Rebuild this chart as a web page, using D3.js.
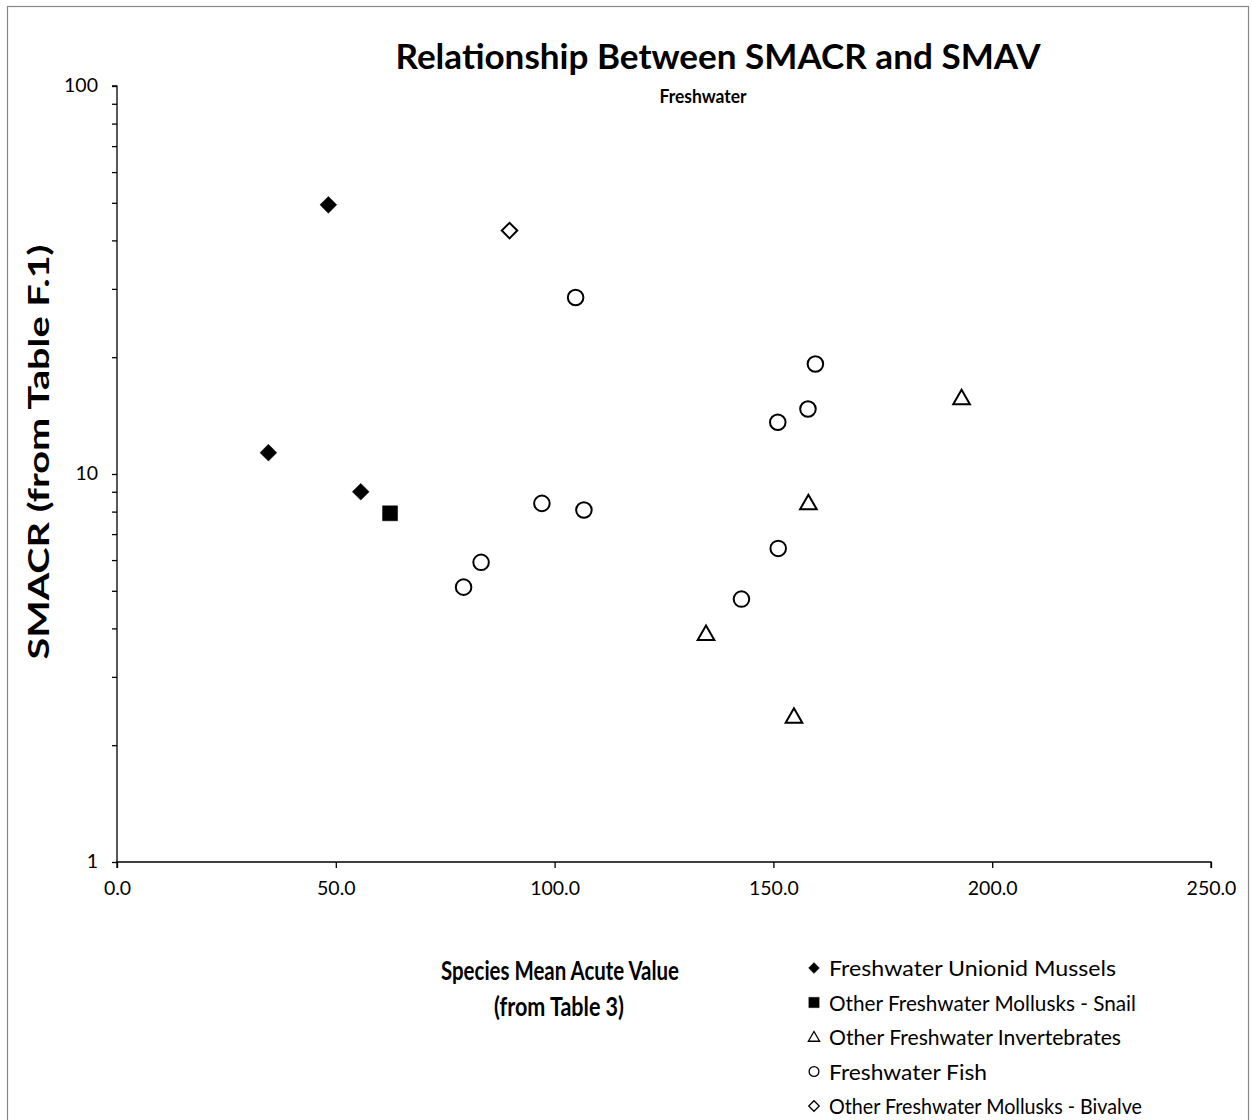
<!DOCTYPE html>
<html>
<head>
<meta charset="utf-8">
<script src="https://cdn.jsdelivr.net/npm/d3@7"></script>
<style>
  body { margin: 0; background: #fff; }
  svg { display: block; font-family: Lato, "Open Sans", sans-serif; }
</style>
</head>
<body>
<svg id="chart" width="1252" height="1120"></svg>
<script>
// ---- data ----
const seriesNames = [
  "Freshwater Unionid Mussels",
  "Other Freshwater Mollusks - Snail",
  "Other Freshwater Invertebrates",
  "Freshwater Fish",
  "Other Freshwater Mollusks - Bivalve"
];
const unionidX = [48.3, 34.6, 55.7];
const unionidY = [49.4, 11.35, 9.0];
const snailX = [62.4];
const snailY = [7.92];
const invertX = [193.0, 158.0, 134.6, 154.7];
const invertY = [15.75, 8.45, 3.89, 2.38];
const fishX = [104.8, 159.6, 157.9, 151.0, 97.1, 106.7, 151.1, 83.2, 142.7, 79.2];
const fishY = [28.5, 19.2, 14.7, 13.6, 8.40, 8.08, 6.43, 5.92, 4.76, 5.11];
const bivalveX = [89.7];
const bivalveY = [42.4];
const xTicks = [0, 50, 100, 150, 200, 250];
const yTicks = [1, 10, 100];

const titleText = "Relationship Between SMACR and SMAV";
const subtitleText = "Freshwater";
const yTitle = "SMACR (from Table F.1)";
const xTitle1 = "Species Mean Acute Value";
const xTitle2 = "(from Table 3)";

// ---- layout ----
const svg = d3.select("#chart");
const pLeft = 117, pRight = 1211, pTop = 86, pBottom = 862;

svg.append("rect").attr("x", 7.5).attr("y", 6.5).attr("width", 1241).attr("height", 1120)
  .attr("fill", "#fff").attr("stroke", "#888").attr("stroke-width", 1.2);

const x = d3.scaleLinear().domain([0, 250]).range([pLeft, pRight]);
const y = d3.scaleLog().domain([1, 100]).range([pBottom, pTop]);

// y axis with minor ticks
const minor = [];
for (let d = 1; d < 100; d *= 10) for (let k = 2; k <= 9; k++) minor.push(d * k);
const yAxisG = svg.append("g").attr("transform", `translate(${pLeft},0)`);
yAxisG.append("g").call(d3.axisLeft(y).tickValues(minor).tickSize(5).tickFormat(""))
  .call(g => g.select(".domain").remove());
yAxisG.append("g").call(d3.axisLeft(y).tickValues(yTicks).tickSize(5).tickPadding(14).tickFormat(d3.format("d")));
yAxisG.selectAll("line,path").attr("stroke", "#000").attr("stroke-width", 1.3);
yAxisG.selectAll("text").attr("font-size", 19.5).attr("fill", "#000")
  .attr("font-family", "Lato, sans-serif").attr("dy", "0.3em");
yAxisG.select(".domain").attr("d", `M-5,${pTop}H0V${pBottom}`);

const xAxisG = svg.append("g").attr("transform", `translate(0,${pBottom})`);
xAxisG.call(d3.axisBottom(x).tickValues(xTicks).tickSize(6).tickPadding(13).tickFormat(d3.format(".1f")));
xAxisG.selectAll("line,path").attr("stroke", "#000").attr("stroke-width", 1.3);
xAxisG.select(".domain").attr("d", `M${pLeft},6V0H${pRight}V6`);
xAxisG.selectAll("text").attr("font-size", 19.5).attr("fill", "#000").attr("font-family", "Lato, sans-serif");

// ---- markers ----
const shapes = [
  { sym: d3.symbolSquare, size: 140, rot: 45, fill: "#000", X: unionidX, Y: unionidY },
  { sym: d3.symbolSquare, size: 225, rot: 0, fill: "#000", X: snailX, Y: snailY },
  { sym: d3.symbolTriangle, size: 120, rot: 0, fill: "#fff", X: invertX, Y: invertY },
  { sym: d3.symbolCircle, size: 190, rot: 0, fill: "#fff", X: fishX, Y: fishY },
  { sym: d3.symbolSquare, size: 120, rot: 45, fill: "#fff", X: bivalveX, Y: bivalveY }
];
shapes.forEach(s => {
  const pts = s.X.map((v, i) => [v, s.Y[i]]);
  svg.append("g").selectAll("path").data(pts).join("path")
    .attr("d", d3.symbol(s.sym, s.size))
    .attr("transform", d => `translate(${x(d[0])},${y(d[1]) + (s.sym === d3.symbolTriangle ? 2 : 0)}) rotate(${s.rot})`)
    .attr("fill", s.fill).attr("stroke", "#000").attr("stroke-width", s.fill === "#fff" ? 2 : 0.5);
});

// ---- titles ----
svg.append("text").attr("x", 718).attr("y", 69).attr("text-anchor", "middle")
  .attr("font-size", 35).attr("font-weight", "bold").attr("textLength", 645)
  .attr("lengthAdjust", "spacingAndGlyphs").text(titleText);
svg.append("text").attr("x", 703).attr("y", 103).attr("text-anchor", "middle")
  .attr("font-size", 19).attr("font-weight", "bold").attr("textLength", 87)
  .attr("lengthAdjust", "spacingAndGlyphs").text(subtitleText);
svg.append("text").attr("transform", "translate(49,452) rotate(-90)").attr("text-anchor", "middle")
  .attr("font-size", 28).attr("font-weight", "bold").attr("textLength", 415)
  .attr("lengthAdjust", "spacingAndGlyphs").text(yTitle);
svg.append("text").attr("x", 560).attr("y", 980).attr("text-anchor", "middle")
  .attr("font-size", 27).attr("font-weight", "bold").attr("textLength", 238)
  .attr("lengthAdjust", "spacingAndGlyphs").text(xTitle1);
svg.append("text").attr("x", 559).attr("y", 1016).attr("text-anchor", "middle")
  .attr("font-size", 27).attr("font-weight", "bold").attr("textLength", 130)
  .attr("lengthAdjust", "spacingAndGlyphs").text(xTitle2);

// ---- legend ----
const legendLens = [287, 307, 292, 158, 313];
const legend = svg.append("g");
shapes.forEach((s, i) => {
  const cy = 968 + i * 34.5;
  const small = { 0: 60, 1: 110, 2: 55, 3: 75, 4: 55 }[i];
  legend.append("path").attr("d", d3.symbol(s.sym, small))
    .attr("transform", `translate(${814},${cy + (i === 2 ? 1 : 0)}) rotate(${s.rot})`)
    .attr("fill", s.fill).attr("stroke", "#000").attr("stroke-width", s.fill === "#fff" ? 1.3 : 0.3);
  legend.append("text").attr("x", 829).attr("y", cy + 8).attr("font-size", 22)
    .attr("textLength", legendLens[i]).attr("lengthAdjust", "spacingAndGlyphs").text(seriesNames[i]);
});
</script>
</body>
</html>
